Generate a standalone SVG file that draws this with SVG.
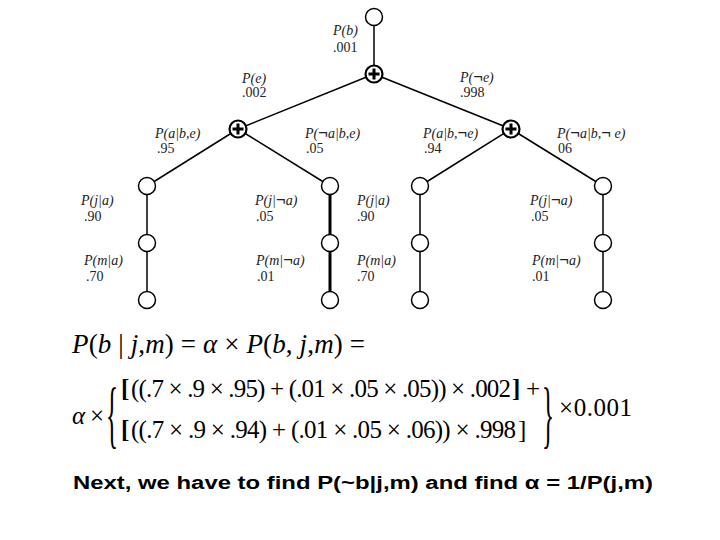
<svg xmlns="http://www.w3.org/2000/svg" width="720" height="540" viewBox="0 0 720 540">
<style>
.edge{stroke:#000;stroke-width:1.5;fill:none}
.thick{stroke-width:3}
.node{fill:#fff;stroke:#000;stroke-width:1.5}
.sum{fill:#fff;stroke:#000;stroke-width:2.2}
.plus{stroke:#000;stroke-width:3;fill:none}
.lbl{font-family:"Liberation Serif",serif;font-size:14px;font-style:italic;fill:#222}
.num{font-family:"Liberation Serif",serif;font-size:14px;fill:#222}
.neg{font-style:normal;font-weight:bold;font-size:17px}
.eq{font-family:"Liberation Serif",serif;font-size:25px;fill:#000}
.eq1{font-size:27px}
.it{font-style:italic}
.note{font-family:"Liberation Sans",Arial,sans-serif;font-size:18px;font-weight:bold;fill:#000}
</style>
<rect width="720" height="540" fill="#fff"/>
<g id="connectors">
<line class="edge" x1="374" y1="17" x2="374" y2="74"/>
<line class="edge" x1="374" y1="74" x2="238" y2="129"/>
<line class="edge" x1="374" y1="74" x2="511" y2="129"/>
<line class="edge" x1="238" y1="129" x2="147" y2="186"/>
<line class="edge" x1="238" y1="129" x2="330" y2="186"/>
<line class="edge" x1="511" y1="129" x2="420" y2="186"/>
<line class="edge" x1="511" y1="129" x2="603" y2="186"/>
<line class="edge" x1="147" y1="186" x2="147" y2="300"/>
<line class="edge thick" x1="330" y1="186" x2="330" y2="300"/>
<line class="edge" x1="420" y1="186" x2="420" y2="300"/>
<line class="edge" x1="603" y1="186" x2="603" y2="300"/>
</g>
<g id="node-b"><circle class="node" cx="374" cy="17" r="8.5"/></g>
<g id="sum-e"><circle class="sum" cx="374" cy="74" r="8.5"/><path class="plus" d="M368.5 74H379.5M374 68.5V79.5"/></g>
<g id="sum-a-e"><circle class="sum" cx="238" cy="129" r="8.5"/><path class="plus" d="M232.5 129H243.5M238 123.5V134.5"/></g>
<g id="sum-a-ne"><circle class="sum" cx="511" cy="129" r="8.5"/><path class="plus" d="M505.5 129H516.5M511 123.5V134.5"/></g>
<g id="j1"><circle class="node" cx="147" cy="186" r="8.5"/></g>
<g id="j2"><circle class="node" cx="330" cy="186" r="8.5"/></g>
<g id="j3"><circle class="node" cx="420" cy="186" r="8.5"/></g>
<g id="j4"><circle class="node" cx="603" cy="186" r="8.5"/></g>
<g id="m1"><circle class="node" cx="147" cy="243" r="8.5"/></g>
<g id="m2"><circle class="node" cx="330" cy="243" r="8.5"/></g>
<g id="m3"><circle class="node" cx="420" cy="243" r="8.5"/></g>
<g id="m4"><circle class="node" cx="603" cy="243" r="8.5"/></g>
<g id="l1"><circle class="node" cx="147" cy="300" r="8.5"/></g>
<g id="l2"><circle class="node" cx="330" cy="300" r="8.5"/></g>
<g id="l3"><circle class="node" cx="420" cy="300" r="8.5"/></g>
<g id="l4"><circle class="node" cx="603" cy="300" r="8.5"/></g>
<g id="labels">
<text class="lbl" x="333" y="35">P(b)</text><text class="num" x="333" y="52">.001</text>
<text class="lbl" x="242" y="83">P(e)</text><text class="num" x="242" y="97">.002</text>
<text class="lbl" x="460" y="82">P(<tspan class="neg">¬</tspan>e)</text><text class="num" x="460" y="97">.998</text>
<text class="lbl" x="155" y="138">P(a|b,e)</text><text class="num" x="157" y="153">.95</text>
<text class="lbl" x="305" y="138">P(<tspan class="neg">¬</tspan>a|b,e)</text><text class="num" x="306" y="153">.05</text>
<text class="lbl" x="423" y="138">P(a|b,<tspan class="neg">¬</tspan>e)</text><text class="num" x="424" y="153">.94</text>
<text class="lbl" x="557" y="138">P(<tspan class="neg">¬</tspan>a|b,<tspan class="neg">¬</tspan> e)</text><text class="num" x="558" y="153">06</text>
<text class="lbl" x="81" y="205">P(j|a)</text><text class="num" x="84" y="221">.90</text>
<text class="lbl" x="84" y="265">P(m|a)</text><text class="num" x="86" y="281">.70</text>
<text class="lbl" x="255" y="205">P(j|<tspan class="neg">¬</tspan>a)</text><text class="num" x="256" y="221">.05</text>
<text class="lbl" x="256" y="265">P(m|<tspan class="neg">¬</tspan>a)</text><text class="num" x="257" y="281">.01</text>
<text class="lbl" x="357" y="205">P(j|a)</text><text class="num" x="357" y="221">.90</text>
<text class="lbl" x="357" y="265">P(m|a)</text><text class="num" x="357" y="281">.70</text>
<text class="lbl" x="530" y="205">P(j|<tspan class="neg">¬</tspan>a)</text><text class="num" x="531" y="221">.05</text>
<text class="lbl" x="532" y="265">P(m|<tspan class="neg">¬</tspan>a)</text><text class="num" x="532" y="281">.01</text>
</g>
<g id="equation">
<text class="eq eq1" x="72" y="353" textLength="293" lengthAdjust="spacing"><tspan class="it">P</tspan>(<tspan class="it">b</tspan> | <tspan class="it">j</tspan>,<tspan class="it">m</tspan>) = <tspan class="it">α</tspan> × <tspan class="it">P</tspan>(<tspan class="it">b</tspan>, <tspan class="it">j</tspan>,<tspan class="it">m</tspan>) =</text>
<text class="eq" x="72" y="424" font-size="27" textLength="32" lengthAdjust="spacing"><tspan class="it">α</tspan>×</text>
<text class="eq" transform="translate(106,439) scale(1,3)" x="0" y="0">{</text>
<text class="eq" x="121" y="397" font-weight="bold">[</text>
<text class="eq" x="131" y="397" textLength="380" lengthAdjust="spacing">((.7 × .9 × .95) + (.01 × .05 × .05)) × .002</text>
<text class="eq" x="512" y="397" font-weight="bold">]</text>
<text class="eq" x="526" y="397">+</text>
<text class="eq" x="121" y="438" font-weight="bold">[</text>
<text class="eq" x="131" y="438" textLength="385" lengthAdjust="spacing">((.7 × .9 × .94) + (.01 × .05 × .06)) × .998</text>
<text class="eq" x="518" y="438">]</text>
<text class="eq" transform="translate(542,439) scale(1,3)" x="0" y="0">}</text>
<text class="eq" x="559" y="416" textLength="73" lengthAdjust="spacing">×0.001</text>
</g>
<text class="note" x="73" y="489" textLength="580" lengthAdjust="spacingAndGlyphs">Next, we have to find P(~b|j,m) and find α = 1/P(j,m)</text>
</svg>
